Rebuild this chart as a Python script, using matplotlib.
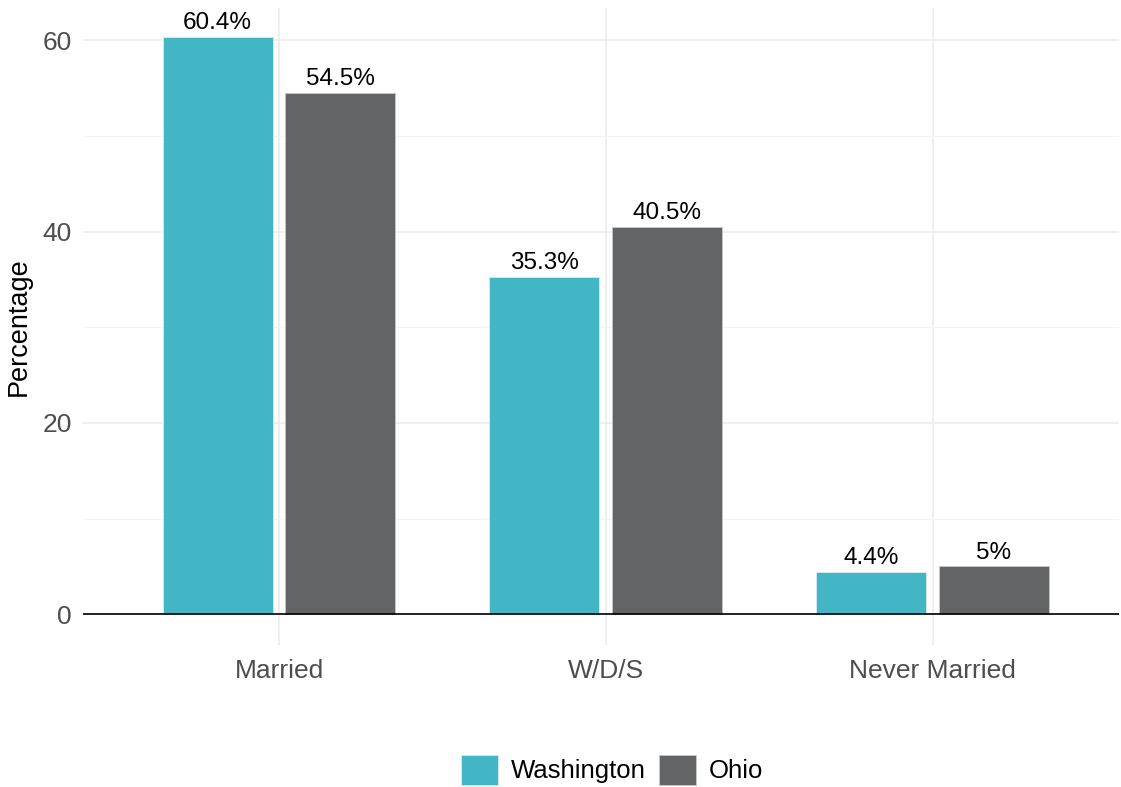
import matplotlib.pyplot as plt
import numpy as np

plt.rcParams['font.family'] = ['Liberation Sans', 'DejaVu Sans']

categories = ['Married', 'W/D/S', 'Never Married']
washington = [60.4, 35.3, 4.4]
ohio = [54.5, 40.5, 5.0]
wash_labels = ['60.4%', '35.3%', '4.4%']
ohio_labels = ['54.5%', '40.5%', '5%']

teal = '#42B6C4'
grey = '#636466'

fig = plt.figure(figsize=(11.21, 7.87), dpi=100)
ax = fig.add_axes([0.074, 0.180, 0.924, 0.810])

x = np.arange(1, len(categories) + 1)
width = 0.337
off = 0.188

b1 = ax.bar(x - off, washington, width, color=teal, edgecolor='#d8eef1', linewidth=0.6,
            label='Washington', zorder=3)
b2 = ax.bar(x + off, ohio, width, color=grey, edgecolor='#c8c8c8', linewidth=0.6,
            label='Ohio', zorder=3)

for bars, labs in [(b1, wash_labels), (b2, ohio_labels)]:
    for bar, lab in zip(bars, labs):
        ax.annotate(lab, (bar.get_x() + bar.get_width() / 2, bar.get_height()),
                    xytext=(0, 2), textcoords='offset points',
                    ha='center', va='bottom', fontsize=17.5, color='black', zorder=4)

ax.axhline(0, color='black', linewidth=1.2, zorder=4)

ax.set_xlim(0.4, 3.57)
ax.set_ylim(-3.25, 63.4)
ax.set_yticks([0, 20, 40, 60])
ax.set_yticks([10, 30, 50], minor=True)
ax.set_xticks(x)
ax.set_xticklabels(categories)

ax.grid(which='major', axis='both', color='#ebebeb', linewidth=1.1, zorder=0)
ax.grid(which='minor', axis='y', color='#f3f3f3', linewidth=0.8, zorder=0)
ax.tick_params(axis='both', which='both', length=0, labelsize=19, colors='#4d4d4d')
ax.tick_params(axis='x', pad=10)
ax.tick_params(axis='y', pad=8)
for s in ax.spines.values():
    s.set_visible(False)

ax.set_ylabel('Percentage', fontsize=19.5, color='black', labelpad=8)

fig.legend(handles=[b1, b2], loc='center', bbox_to_anchor=(0.546, 0.022),
           ncol=2, frameon=False, fontsize=18.5, handlelength=1.45, handleheight=1.4,
           handletextpad=0.5, columnspacing=0.5)

plt.savefig('out.png', dpi=100)
